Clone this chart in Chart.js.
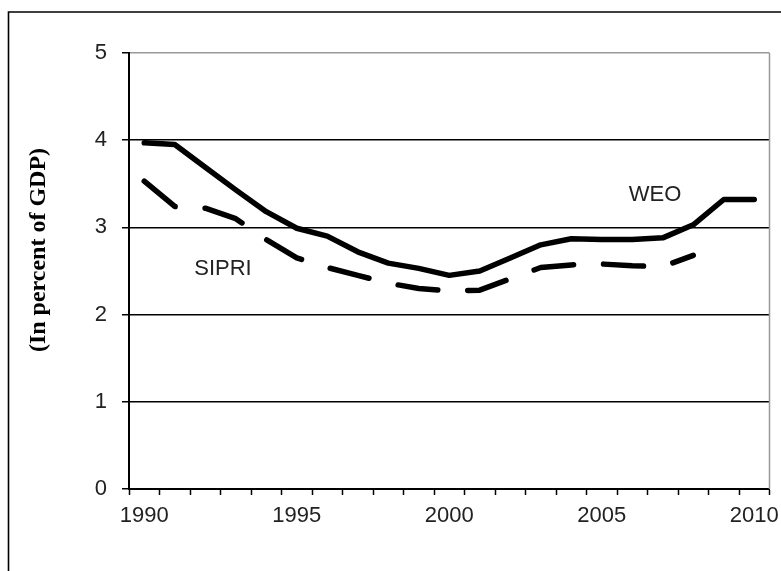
<!DOCTYPE html>
<html>
<head>
<meta charset="utf-8">
<title>Military spending, WEO vs SIPRI</title>
<script src="https://cdn.jsdelivr.net/npm/chart.js@4.4.1/dist/chart.umd.min.js"></script>
<style>
  html, body { margin: 0; padding: 0; background: #fff; }
  canvas { display: block; }
</style>
</head>
<body>
<canvas id="spendChart" width="781" height="571"></canvas>
<script>
// -------------------------
// Data
// -------------------------
const years = ["1990", "1991", "1992", "1993", "1994", "1995", "1996", "1997", "1998", "1999", "2000",
  "2001", "2002", "2003", "2004", "2005", "2006", "2007", "2008", "2009", "2010"];
const weo = [3.97, 3.95, 3.69, 3.43, 3.18, 2.99, 2.90, 2.72, 2.59, 2.53, 2.45,
  2.50, 2.65, 2.80, 2.87, 2.86, 2.86, 2.88, 3.03, 3.32, 3.32];
const sipri = [3.53, 3.24, 3.22, 3.10, 2.86, 2.65, 2.54, 2.45, 2.36, 2.30, 2.27,
  2.28, 2.41, 2.54, 2.57, 2.58, 2.56, 2.55, 2.68, null, null];
const yTicks = [0, 1, 2, 3, 4, 5];
const shownYears = ["1990", "1995", "2000", "2005", "2010"];
const axisTitle = "(In percent of GDP)";
// series names written next to the lines: text, category index, value
const seriesNames = ["WEO", "SIPRI"];
const nameAt = [16.75, 2.58];
const nameVal = [3.37, 2.52];

const labelFont = { family: "'Liberation Sans', Arial, sans-serif", size: 22 };

// -------------------------
// Frame, title and line names
// -------------------------
const extras = {
  id: "extras",
  beforeDraw(chart) {
    const ctx = chart.ctx;
    ctx.save();
    ctx.strokeStyle = "#000";
    ctx.lineWidth = 1.6;
    ctx.beginPath();
    ctx.moveTo(8.5, 600);
    ctx.lineTo(8.5, 12);
    ctx.lineTo(800, 12);
    ctx.stroke();
    ctx.restore();
  },
  afterDatasetsDraw(chart) {
    const ctx = chart.ctx;
    const area = chart.chartArea;
    const x = chart.scales.x;
    const y = chart.scales.y;
    ctx.save();
    // right edge of the plot
    ctx.strokeStyle = "#999";
    ctx.lineWidth = 1.5;
    ctx.beginPath();
    ctx.moveTo(area.right, area.top);
    ctx.lineTo(area.right, area.bottom);
    ctx.stroke();

    // y title
    ctx.fillStyle = "#000";
    ctx.font = "bold 24px 'Liberation Serif', 'Times New Roman', serif";
    ctx.textAlign = "center";
    ctx.textBaseline = "middle";
    ctx.translate(39, 250);
    ctx.rotate(-Math.PI / 2);
    ctx.fillText(axisTitle, 0, 0);
    ctx.restore();

    ctx.save();
    ctx.fillStyle = "#222";
    ctx.font = "22px " + labelFont.family;
    ctx.textAlign = "center";
    ctx.textBaseline = "middle";
    seriesNames.forEach((name, i) => {
      ctx.fillText(name, x.getPixelForValue(nameAt[i]), y.getPixelForValue(nameVal[i]));
    });
    ctx.restore();
  }
};

// -------------------------
// Chart
// -------------------------
const ctx = document.getElementById("spendChart").getContext("2d");
new Chart(ctx, {
  type: "line",
  data: {
    labels: years,
    datasets: [
      {
        label: "WEO",
        data: weo,
        borderColor: "#000",
        borderWidth: 5.5,
        borderCapStyle: "round",
        borderJoinStyle: "round",
        pointRadius: 0,
        tension: 0,
        fill: false
      },
      {
        label: "SIPRI",
        data: sipri,
        borderColor: "#000",
        borderWidth: 5.5,
        borderDash: [40, 30],
        borderCapStyle: "round",
        borderJoinStyle: "round",
        pointRadius: 0,
        tension: 0,
        fill: false
      }
    ]
  },
  options: {
    responsive: false,
    animation: false,
    layout: { padding: { left: 0, top: 53, right: 11.5, bottom: 0 } },
    plugins: {
      legend: { display: false },
      tooltip: { enabled: false }
    },
    scales: {
      x: {
        type: "category",
        offset: true,
        grid: {
          offset: true,
          drawOnChartArea: false,
          tickLength: 6,
          tickColor: "#000",
          tickWidth: 1.5
        },
        border: { color: "#000", width: 2 },
        ticks: {
          autoSkip: false,
          maxRotation: 0,
          padding: 8,
          color: "#222",
          font: labelFont,
          callback: (v, i) => shownYears.includes(years[i]) ? years[i] : ""
        },
        afterFit: scale => {
          scale.height = 82;
          scale.paddingLeft = 0;
          scale.paddingRight = 0;
        }
      },
      y: {
        min: 0,
        max: 5,
        afterBuildTicks: scale => { scale.ticks = yTicks.map(v => ({ value: v })); },
        grid: {
          color: c => c.tick && c.tick.value === 5 ? "#999" : "#000",
          lineWidth: 1.5,
          tickLength: 7,
          tickColor: "#000",
          tickWidth: 1.5
        },
        border: { color: "#000", width: 2 },
        ticks: {
          padding: 15,
          color: "#222",
          font: labelFont
        },
        afterFit: scale => {
          scale.width = 129;
          scale.paddingTop = 0;
          scale.paddingBottom = 0;
        }
      }
    }
  },
  plugins: [extras]
});
</script>
</body>
</html>
